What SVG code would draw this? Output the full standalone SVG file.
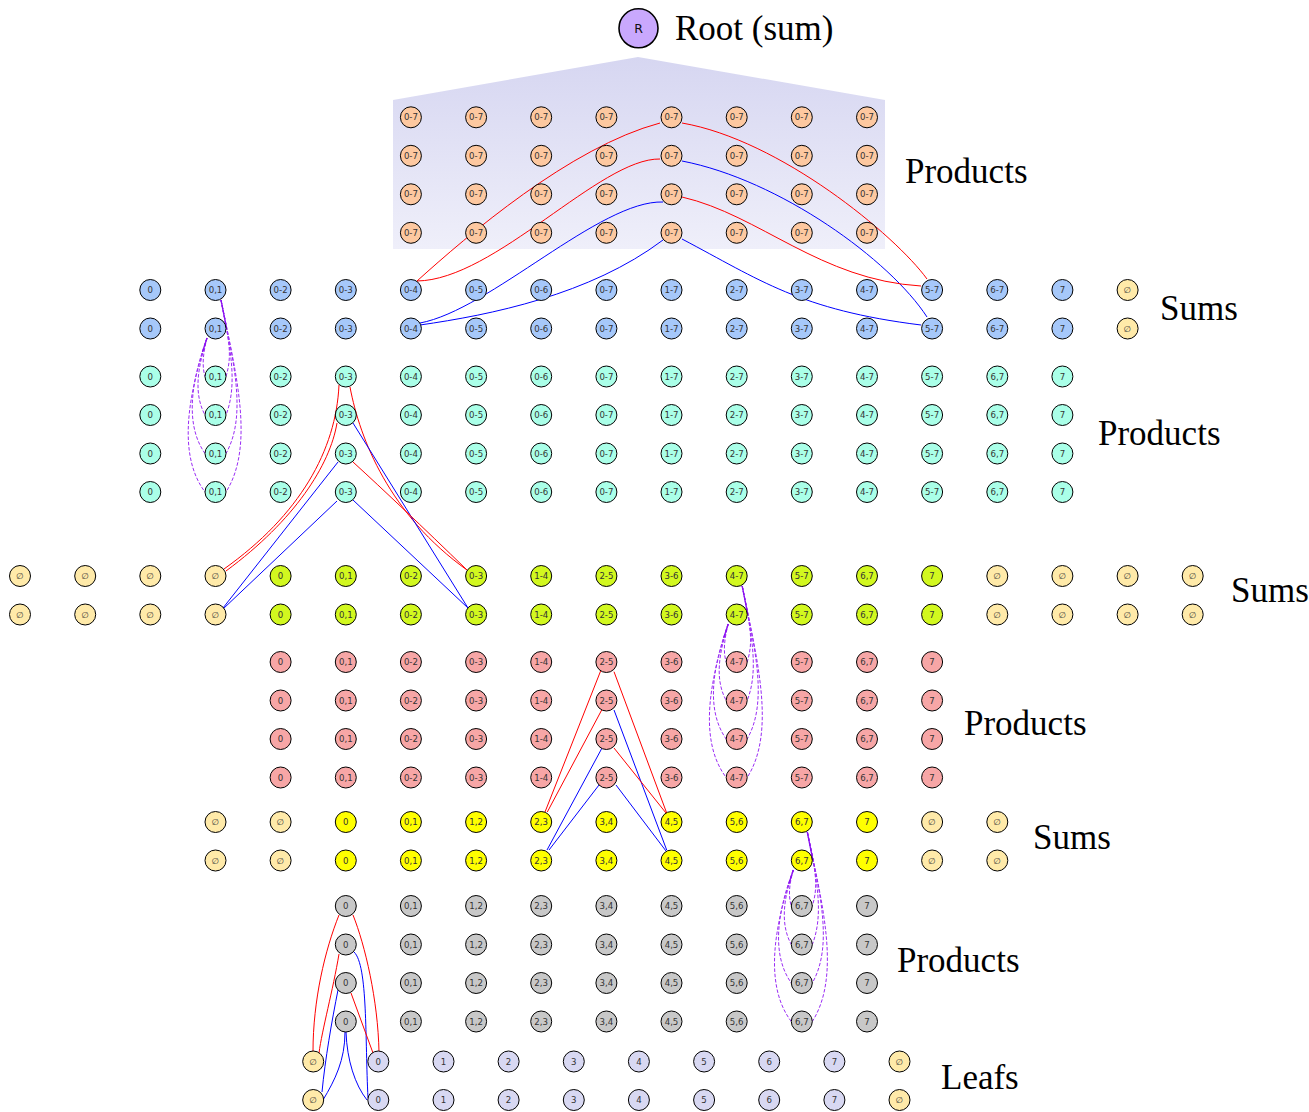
<svg xmlns="http://www.w3.org/2000/svg" width="1309" height="1112" viewBox="0 0 1309 1112">
<style>
.n circle{stroke:#000;stroke-width:1}
.n text{font-family:"DejaVu Sans",sans-serif;font-size:8.6px;text-anchor:middle;fill:#333}
.pe circle{fill:#fdc8a0}.bl circle{fill:#a6c8fa}.cy circle{fill:#aaffe8}.gn circle{fill:#d2f81f}
.em circle{fill:#ffeaa9}.pi circle{fill:#f7a6a6}.ye circle{fill:#ffff00}.gy circle{fill:#c8c8c8}
.lf circle{fill:#d8d8f2}.rt circle{fill:#c9a8fd;stroke-width:1.6}
.rt text{font-size:12.5px;fill:#111}
.lbl{font-family:"Liberation Serif",serif;font-size:35px;fill:#000}
.r{fill:none;stroke:#ff0000;stroke-width:1}
.b{fill:none;stroke:#0000ff;stroke-width:1}
.pd{fill:none;stroke:#9a2cf5;stroke-width:1;stroke-dasharray:3.5 1.8}
.ps{fill:none;stroke:#8a10f0;stroke-width:1.3}
</style>
<defs>
<linearGradient id="bg" x1="0" y1="0" x2="0" y2="1">
<stop offset="0" stop-color="#d6d6f1"/><stop offset="1" stop-color="#efeffa"/>
</linearGradient>
</defs>
<polygon points="393,100 638,57 885,100 885,249 393,249" fill="url(#bg)"/>
<g id="labels">
<text class="lbl" x="675" y="40">Root (sum)</text>
<text class="lbl" x="905" y="183">Products</text>
<text class="lbl" x="1160" y="320">Sums</text>
<text class="lbl" x="1098" y="445">Products</text>
<text class="lbl" x="1231" y="602">Sums</text>
<text class="lbl" x="964" y="735">Products</text>
<text class="lbl" x="1033" y="849">Sums</text>
<text class="lbl" x="897" y="972">Products</text>
<text class="lbl" x="941" y="1089">Leafs</text>
</g>
<g id="connectors">
<path class="r" d="M660,123 C570,147 467,236 417,281"/>
<path class="r" d="M660,159 C600,158 495,280 417,281"/>
<path class="b" d="M663,202 C600,200 490,310 420,323"/>
<path class="b" d="M663,240 C590,295 490,315 420,325"/>
<path class="r" d="M682,123 C780,140 895,235 927,279"/>
<path class="b" d="M682,161 C780,180 890,260 927,317"/>
<path class="r" d="M682,197 C760,215 820,280 921,286"/>
<path class="b" d="M682,239 C760,280 800,310 921,325"/>
<path class="r" d="M339,385 C336,450 300,515 224,569"/>
<path class="r" d="M337,423 C330,465 295,520 226,571"/>
<path class="b" d="M338,462 L223,608"/>
<path class="b" d="M337,501 L223,609"/>
<path class="r" d="M350,387 C360,440 390,515 467,570"/>
<path class="b" d="M353,423 L468,608"/>
<path class="r" d="M353,462 Q400,505 467,570"/>
<path class="b" d="M353,500 L468,608"/>
<path class="r" d="M601,670 L545,812"/>
<path class="r" d="M601.7,710 L547.3,812"/>
<path class="b" d="M602,748 L547,850"/>
<path class="b" d="M599,785 L549,850"/>
<path class="r" d="M614,671.7 L666.7,813"/>
<path class="b" d="M614,710 L666.7,850"/>
<path class="r" d="M614,748 L666,813"/>
<path class="b" d="M616,785 L666,851"/>
<path class="r" d="M339,915 C325,950 313,1000 313,1051.7"/>
<path class="r" d="M339,954 C333,990 322,1030 319,1053"/>
<path class="b" d="M338,990 C332,1020 325,1060 322,1092"/>
<path class="b" d="M345,1032 C345,1060 335,1080 323,1100"/>
<path class="r" d="M353,915 C365,945 378,1000 379,1052"/>
<path class="b" d="M354,952 C368,965 365,1040 368,1098"/>
<path class="r" d="M351,993 L373,1053"/>
<path class="b" d="M346,1032 C347,1060 355,1085 367,1100"/>
<g transform="translate(215.5,290)">
<path class="pd" d="M5.5,10 C13.5,50 17,65 10.5,86.5"/>
<path class="pd" d="M5.5,10 C15.5,60 22,95 10.5,125"/>
<path class="pd" d="M5.5,10 C17.5,70 32,125 10.5,163.5"/>
<path class="pd" d="M5.5,10 C19.5,80 40,155 10.5,202"/>
<path class="pd" d="M-8.5,48 C-12,62 -14,75 -10.5,86.5"/>
<path class="pd" d="M-8.5,48 C-15,70 -24,100 -10.5,125"/>
<path class="pd" d="M-8.5,48 C-20,80 -34,130 -10.5,163.5"/>
<path class="pd" d="M-8.5,48 C-22,90 -42,160 -10.5,202"/>
<path class="ps" d="M5.5,10 L11,38"/>
<path class="ps" d="M-8.5,48 L-13,62"/>
</g>
<g transform="translate(736.7,576)">
<path class="pd" d="M5.5,10 C13.5,50 17,65 10.5,86"/>
<path class="pd" d="M5.5,10 C15.5,60 22,95 10.5,124.5"/>
<path class="pd" d="M5.5,10 C17.5,70 32,125 10.5,163"/>
<path class="pd" d="M5.5,10 C19.5,80 40,155 10.5,201.5"/>
<path class="pd" d="M-8.5,48 C-12,62 -14,75 -10.5,86"/>
<path class="pd" d="M-8.5,48 C-15,70 -24,100 -10.5,124.5"/>
<path class="pd" d="M-8.5,48 C-20,80 -34,130 -10.5,163"/>
<path class="pd" d="M-8.5,48 C-22,90 -42,160 -10.5,201.5"/>
<path class="ps" d="M5.5,10 L11,38"/>
<path class="ps" d="M-8.5,48 L-13,62"/>
</g>
<g transform="translate(801.8,822)">
<path class="pd" d="M5.5,10 C13.5,48 17,63 10.5,84"/>
<path class="pd" d="M5.5,10 C15.5,58 22,93 10.5,122.5"/>
<path class="pd" d="M5.5,10 C17.5,68 32,123 10.5,161"/>
<path class="pd" d="M5.5,10 C19.5,78 40,153 10.5,199.5"/>
<path class="pd" d="M-8.5,48 C-12,60 -14,73 -10.5,84"/>
<path class="pd" d="M-8.5,48 C-15,68 -24,98 -10.5,122.5"/>
<path class="pd" d="M-8.5,48 C-20,78 -34,128 -10.5,161"/>
<path class="pd" d="M-8.5,48 C-22,88 -42,158 -10.5,199.5"/>
<path class="ps" d="M5.5,10 L11,38"/>
<path class="ps" d="M-8.5,48 L-13,62"/>
</g>
</g>
<g id="root" class="n rt" transform="translate(638.5,28.3)"><circle r="19.5"/><text y="4.5">R</text></g>
<g id="a1-6" class="n pe" transform="translate(410.9,117.3)"><circle r="10.5"/><text y="3">0-7</text></g>
<g id="a1-7" class="n pe" transform="translate(476.1,117.3)"><circle r="10.5"/><text y="3">0-7</text></g>
<g id="a1-8" class="n pe" transform="translate(541.2,117.3)"><circle r="10.5"/><text y="3">0-7</text></g>
<g id="a1-9" class="n pe" transform="translate(606.4,117.3)"><circle r="10.5"/><text y="3">0-7</text></g>
<g id="a1-10" class="n pe" transform="translate(671.5,117.3)"><circle r="10.5"/><text y="3">0-7</text></g>
<g id="a1-11" class="n pe" transform="translate(736.7,117.3)"><circle r="10.5"/><text y="3">0-7</text></g>
<g id="a1-12" class="n pe" transform="translate(801.8,117.3)"><circle r="10.5"/><text y="3">0-7</text></g>
<g id="a1-13" class="n pe" transform="translate(867,117.3)"><circle r="10.5"/><text y="3">0-7</text></g>
<g id="a2-6" class="n pe" transform="translate(410.9,155.8)"><circle r="10.5"/><text y="3">0-7</text></g>
<g id="a2-7" class="n pe" transform="translate(476.1,155.8)"><circle r="10.5"/><text y="3">0-7</text></g>
<g id="a2-8" class="n pe" transform="translate(541.2,155.8)"><circle r="10.5"/><text y="3">0-7</text></g>
<g id="a2-9" class="n pe" transform="translate(606.4,155.8)"><circle r="10.5"/><text y="3">0-7</text></g>
<g id="a2-10" class="n pe" transform="translate(671.5,155.8)"><circle r="10.5"/><text y="3">0-7</text></g>
<g id="a2-11" class="n pe" transform="translate(736.7,155.8)"><circle r="10.5"/><text y="3">0-7</text></g>
<g id="a2-12" class="n pe" transform="translate(801.8,155.8)"><circle r="10.5"/><text y="3">0-7</text></g>
<g id="a2-13" class="n pe" transform="translate(867,155.8)"><circle r="10.5"/><text y="3">0-7</text></g>
<g id="a3-6" class="n pe" transform="translate(410.9,194.3)"><circle r="10.5"/><text y="3">0-7</text></g>
<g id="a3-7" class="n pe" transform="translate(476.1,194.3)"><circle r="10.5"/><text y="3">0-7</text></g>
<g id="a3-8" class="n pe" transform="translate(541.2,194.3)"><circle r="10.5"/><text y="3">0-7</text></g>
<g id="a3-9" class="n pe" transform="translate(606.4,194.3)"><circle r="10.5"/><text y="3">0-7</text></g>
<g id="a3-10" class="n pe" transform="translate(671.5,194.3)"><circle r="10.5"/><text y="3">0-7</text></g>
<g id="a3-11" class="n pe" transform="translate(736.7,194.3)"><circle r="10.5"/><text y="3">0-7</text></g>
<g id="a3-12" class="n pe" transform="translate(801.8,194.3)"><circle r="10.5"/><text y="3">0-7</text></g>
<g id="a3-13" class="n pe" transform="translate(867,194.3)"><circle r="10.5"/><text y="3">0-7</text></g>
<g id="a4-6" class="n pe" transform="translate(410.9,232.8)"><circle r="10.5"/><text y="3">0-7</text></g>
<g id="a4-7" class="n pe" transform="translate(476.1,232.8)"><circle r="10.5"/><text y="3">0-7</text></g>
<g id="a4-8" class="n pe" transform="translate(541.2,232.8)"><circle r="10.5"/><text y="3">0-7</text></g>
<g id="a4-9" class="n pe" transform="translate(606.4,232.8)"><circle r="10.5"/><text y="3">0-7</text></g>
<g id="a4-10" class="n pe" transform="translate(671.5,232.8)"><circle r="10.5"/><text y="3">0-7</text></g>
<g id="a4-11" class="n pe" transform="translate(736.7,232.8)"><circle r="10.5"/><text y="3">0-7</text></g>
<g id="a4-12" class="n pe" transform="translate(801.8,232.8)"><circle r="10.5"/><text y="3">0-7</text></g>
<g id="a4-13" class="n pe" transform="translate(867,232.8)"><circle r="10.5"/><text y="3">0-7</text></g>
<g id="b1-2" class="n bl" transform="translate(150.3,290)"><circle r="10.5"/><text y="3">0</text></g>
<g id="b1-3" class="n bl" transform="translate(215.5,290)"><circle r="10.5"/><text y="3">0,1</text></g>
<g id="b1-4" class="n bl" transform="translate(280.6,290)"><circle r="10.5"/><text y="3">0-2</text></g>
<g id="b1-5" class="n bl" transform="translate(345.8,290)"><circle r="10.5"/><text y="3">0-3</text></g>
<g id="b1-6" class="n bl" transform="translate(410.9,290)"><circle r="10.5"/><text y="3">0-4</text></g>
<g id="b1-7" class="n bl" transform="translate(476.1,290)"><circle r="10.5"/><text y="3">0-5</text></g>
<g id="b1-8" class="n bl" transform="translate(541.2,290)"><circle r="10.5"/><text y="3">0-6</text></g>
<g id="b1-9" class="n bl" transform="translate(606.4,290)"><circle r="10.5"/><text y="3">0-7</text></g>
<g id="b1-10" class="n bl" transform="translate(671.5,290)"><circle r="10.5"/><text y="3">1-7</text></g>
<g id="b1-11" class="n bl" transform="translate(736.7,290)"><circle r="10.5"/><text y="3">2-7</text></g>
<g id="b1-12" class="n bl" transform="translate(801.8,290)"><circle r="10.5"/><text y="3">3-7</text></g>
<g id="b1-13" class="n bl" transform="translate(867,290)"><circle r="10.5"/><text y="3">4-7</text></g>
<g id="b1-14" class="n bl" transform="translate(932.1,290)"><circle r="10.5"/><text y="3">5-7</text></g>
<g id="b1-15" class="n bl" transform="translate(997.3,290)"><circle r="10.5"/><text y="3">6-7</text></g>
<g id="b1-16" class="n bl" transform="translate(1062.4,290)"><circle r="10.5"/><text y="3">7</text></g>
<g id="b1-17" class="n em" transform="translate(1127.6,290)"><circle r="10.5"/><text y="3">∅</text></g>
<g id="b2-2" class="n bl" transform="translate(150.3,328.5)"><circle r="10.5"/><text y="3">0</text></g>
<g id="b2-3" class="n bl" transform="translate(215.5,328.5)"><circle r="10.5"/><text y="3">0,1</text></g>
<g id="b2-4" class="n bl" transform="translate(280.6,328.5)"><circle r="10.5"/><text y="3">0-2</text></g>
<g id="b2-5" class="n bl" transform="translate(345.8,328.5)"><circle r="10.5"/><text y="3">0-3</text></g>
<g id="b2-6" class="n bl" transform="translate(410.9,328.5)"><circle r="10.5"/><text y="3">0-4</text></g>
<g id="b2-7" class="n bl" transform="translate(476.1,328.5)"><circle r="10.5"/><text y="3">0-5</text></g>
<g id="b2-8" class="n bl" transform="translate(541.2,328.5)"><circle r="10.5"/><text y="3">0-6</text></g>
<g id="b2-9" class="n bl" transform="translate(606.4,328.5)"><circle r="10.5"/><text y="3">0-7</text></g>
<g id="b2-10" class="n bl" transform="translate(671.5,328.5)"><circle r="10.5"/><text y="3">1-7</text></g>
<g id="b2-11" class="n bl" transform="translate(736.7,328.5)"><circle r="10.5"/><text y="3">2-7</text></g>
<g id="b2-12" class="n bl" transform="translate(801.8,328.5)"><circle r="10.5"/><text y="3">3-7</text></g>
<g id="b2-13" class="n bl" transform="translate(867,328.5)"><circle r="10.5"/><text y="3">4-7</text></g>
<g id="b2-14" class="n bl" transform="translate(932.1,328.5)"><circle r="10.5"/><text y="3">5-7</text></g>
<g id="b2-15" class="n bl" transform="translate(997.3,328.5)"><circle r="10.5"/><text y="3">6-7</text></g>
<g id="b2-16" class="n bl" transform="translate(1062.4,328.5)"><circle r="10.5"/><text y="3">7</text></g>
<g id="b2-17" class="n em" transform="translate(1127.6,328.5)"><circle r="10.5"/><text y="3">∅</text></g>
<g id="c1-2" class="n cy" transform="translate(150.3,376.5)"><circle r="10.5"/><text y="3">0</text></g>
<g id="c1-3" class="n cy" transform="translate(215.5,376.5)"><circle r="10.5"/><text y="3">0,1</text></g>
<g id="c1-4" class="n cy" transform="translate(280.6,376.5)"><circle r="10.5"/><text y="3">0-2</text></g>
<g id="c1-5" class="n cy" transform="translate(345.8,376.5)"><circle r="10.5"/><text y="3">0-3</text></g>
<g id="c1-6" class="n cy" transform="translate(410.9,376.5)"><circle r="10.5"/><text y="3">0-4</text></g>
<g id="c1-7" class="n cy" transform="translate(476.1,376.5)"><circle r="10.5"/><text y="3">0-5</text></g>
<g id="c1-8" class="n cy" transform="translate(541.2,376.5)"><circle r="10.5"/><text y="3">0-6</text></g>
<g id="c1-9" class="n cy" transform="translate(606.4,376.5)"><circle r="10.5"/><text y="3">0-7</text></g>
<g id="c1-10" class="n cy" transform="translate(671.5,376.5)"><circle r="10.5"/><text y="3">1-7</text></g>
<g id="c1-11" class="n cy" transform="translate(736.7,376.5)"><circle r="10.5"/><text y="3">2-7</text></g>
<g id="c1-12" class="n cy" transform="translate(801.8,376.5)"><circle r="10.5"/><text y="3">3-7</text></g>
<g id="c1-13" class="n cy" transform="translate(867,376.5)"><circle r="10.5"/><text y="3">4-7</text></g>
<g id="c1-14" class="n cy" transform="translate(932.1,376.5)"><circle r="10.5"/><text y="3">5-7</text></g>
<g id="c1-15" class="n cy" transform="translate(997.3,376.5)"><circle r="10.5"/><text y="3">6,7</text></g>
<g id="c1-16" class="n cy" transform="translate(1062.4,376.5)"><circle r="10.5"/><text y="3">7</text></g>
<g id="c2-2" class="n cy" transform="translate(150.3,415)"><circle r="10.5"/><text y="3">0</text></g>
<g id="c2-3" class="n cy" transform="translate(215.5,415)"><circle r="10.5"/><text y="3">0,1</text></g>
<g id="c2-4" class="n cy" transform="translate(280.6,415)"><circle r="10.5"/><text y="3">0-2</text></g>
<g id="c2-5" class="n cy" transform="translate(345.8,415)"><circle r="10.5"/><text y="3">0-3</text></g>
<g id="c2-6" class="n cy" transform="translate(410.9,415)"><circle r="10.5"/><text y="3">0-4</text></g>
<g id="c2-7" class="n cy" transform="translate(476.1,415)"><circle r="10.5"/><text y="3">0-5</text></g>
<g id="c2-8" class="n cy" transform="translate(541.2,415)"><circle r="10.5"/><text y="3">0-6</text></g>
<g id="c2-9" class="n cy" transform="translate(606.4,415)"><circle r="10.5"/><text y="3">0-7</text></g>
<g id="c2-10" class="n cy" transform="translate(671.5,415)"><circle r="10.5"/><text y="3">1-7</text></g>
<g id="c2-11" class="n cy" transform="translate(736.7,415)"><circle r="10.5"/><text y="3">2-7</text></g>
<g id="c2-12" class="n cy" transform="translate(801.8,415)"><circle r="10.5"/><text y="3">3-7</text></g>
<g id="c2-13" class="n cy" transform="translate(867,415)"><circle r="10.5"/><text y="3">4-7</text></g>
<g id="c2-14" class="n cy" transform="translate(932.1,415)"><circle r="10.5"/><text y="3">5-7</text></g>
<g id="c2-15" class="n cy" transform="translate(997.3,415)"><circle r="10.5"/><text y="3">6,7</text></g>
<g id="c2-16" class="n cy" transform="translate(1062.4,415)"><circle r="10.5"/><text y="3">7</text></g>
<g id="c3-2" class="n cy" transform="translate(150.3,453.5)"><circle r="10.5"/><text y="3">0</text></g>
<g id="c3-3" class="n cy" transform="translate(215.5,453.5)"><circle r="10.5"/><text y="3">0,1</text></g>
<g id="c3-4" class="n cy" transform="translate(280.6,453.5)"><circle r="10.5"/><text y="3">0-2</text></g>
<g id="c3-5" class="n cy" transform="translate(345.8,453.5)"><circle r="10.5"/><text y="3">0-3</text></g>
<g id="c3-6" class="n cy" transform="translate(410.9,453.5)"><circle r="10.5"/><text y="3">0-4</text></g>
<g id="c3-7" class="n cy" transform="translate(476.1,453.5)"><circle r="10.5"/><text y="3">0-5</text></g>
<g id="c3-8" class="n cy" transform="translate(541.2,453.5)"><circle r="10.5"/><text y="3">0-6</text></g>
<g id="c3-9" class="n cy" transform="translate(606.4,453.5)"><circle r="10.5"/><text y="3">0-7</text></g>
<g id="c3-10" class="n cy" transform="translate(671.5,453.5)"><circle r="10.5"/><text y="3">1-7</text></g>
<g id="c3-11" class="n cy" transform="translate(736.7,453.5)"><circle r="10.5"/><text y="3">2-7</text></g>
<g id="c3-12" class="n cy" transform="translate(801.8,453.5)"><circle r="10.5"/><text y="3">3-7</text></g>
<g id="c3-13" class="n cy" transform="translate(867,453.5)"><circle r="10.5"/><text y="3">4-7</text></g>
<g id="c3-14" class="n cy" transform="translate(932.1,453.5)"><circle r="10.5"/><text y="3">5-7</text></g>
<g id="c3-15" class="n cy" transform="translate(997.3,453.5)"><circle r="10.5"/><text y="3">6,7</text></g>
<g id="c3-16" class="n cy" transform="translate(1062.4,453.5)"><circle r="10.5"/><text y="3">7</text></g>
<g id="c4-2" class="n cy" transform="translate(150.3,492)"><circle r="10.5"/><text y="3">0</text></g>
<g id="c4-3" class="n cy" transform="translate(215.5,492)"><circle r="10.5"/><text y="3">0,1</text></g>
<g id="c4-4" class="n cy" transform="translate(280.6,492)"><circle r="10.5"/><text y="3">0-2</text></g>
<g id="c4-5" class="n cy" transform="translate(345.8,492)"><circle r="10.5"/><text y="3">0-3</text></g>
<g id="c4-6" class="n cy" transform="translate(410.9,492)"><circle r="10.5"/><text y="3">0-4</text></g>
<g id="c4-7" class="n cy" transform="translate(476.1,492)"><circle r="10.5"/><text y="3">0-5</text></g>
<g id="c4-8" class="n cy" transform="translate(541.2,492)"><circle r="10.5"/><text y="3">0-6</text></g>
<g id="c4-9" class="n cy" transform="translate(606.4,492)"><circle r="10.5"/><text y="3">0-7</text></g>
<g id="c4-10" class="n cy" transform="translate(671.5,492)"><circle r="10.5"/><text y="3">1-7</text></g>
<g id="c4-11" class="n cy" transform="translate(736.7,492)"><circle r="10.5"/><text y="3">2-7</text></g>
<g id="c4-12" class="n cy" transform="translate(801.8,492)"><circle r="10.5"/><text y="3">3-7</text></g>
<g id="c4-13" class="n cy" transform="translate(867,492)"><circle r="10.5"/><text y="3">4-7</text></g>
<g id="c4-14" class="n cy" transform="translate(932.1,492)"><circle r="10.5"/><text y="3">5-7</text></g>
<g id="c4-15" class="n cy" transform="translate(997.3,492)"><circle r="10.5"/><text y="3">6,7</text></g>
<g id="c4-16" class="n cy" transform="translate(1062.4,492)"><circle r="10.5"/><text y="3">7</text></g>
<g id="d1-0" class="n em" transform="translate(20,576)"><circle r="10.5"/><text y="3">∅</text></g>
<g id="d1-1" class="n em" transform="translate(85.2,576)"><circle r="10.5"/><text y="3">∅</text></g>
<g id="d1-2" class="n em" transform="translate(150.3,576)"><circle r="10.5"/><text y="3">∅</text></g>
<g id="d1-3" class="n em" transform="translate(215.5,576)"><circle r="10.5"/><text y="3">∅</text></g>
<g id="d1-4" class="n gn" transform="translate(280.6,576)"><circle r="10.5"/><text y="3">0</text></g>
<g id="d1-5" class="n gn" transform="translate(345.8,576)"><circle r="10.5"/><text y="3">0,1</text></g>
<g id="d1-6" class="n gn" transform="translate(410.9,576)"><circle r="10.5"/><text y="3">0-2</text></g>
<g id="d1-7" class="n gn" transform="translate(476.1,576)"><circle r="10.5"/><text y="3">0-3</text></g>
<g id="d1-8" class="n gn" transform="translate(541.2,576)"><circle r="10.5"/><text y="3">1-4</text></g>
<g id="d1-9" class="n gn" transform="translate(606.4,576)"><circle r="10.5"/><text y="3">2-5</text></g>
<g id="d1-10" class="n gn" transform="translate(671.5,576)"><circle r="10.5"/><text y="3">3-6</text></g>
<g id="d1-11" class="n gn" transform="translate(736.7,576)"><circle r="10.5"/><text y="3">4-7</text></g>
<g id="d1-12" class="n gn" transform="translate(801.8,576)"><circle r="10.5"/><text y="3">5-7</text></g>
<g id="d1-13" class="n gn" transform="translate(867,576)"><circle r="10.5"/><text y="3">6,7</text></g>
<g id="d1-14" class="n gn" transform="translate(932.1,576)"><circle r="10.5"/><text y="3">7</text></g>
<g id="d1-15" class="n em" transform="translate(997.3,576)"><circle r="10.5"/><text y="3">∅</text></g>
<g id="d1-16" class="n em" transform="translate(1062.4,576)"><circle r="10.5"/><text y="3">∅</text></g>
<g id="d1-17" class="n em" transform="translate(1127.6,576)"><circle r="10.5"/><text y="3">∅</text></g>
<g id="d1-18" class="n em" transform="translate(1192.7,576)"><circle r="10.5"/><text y="3">∅</text></g>
<g id="d2-0" class="n em" transform="translate(20,614.5)"><circle r="10.5"/><text y="3">∅</text></g>
<g id="d2-1" class="n em" transform="translate(85.2,614.5)"><circle r="10.5"/><text y="3">∅</text></g>
<g id="d2-2" class="n em" transform="translate(150.3,614.5)"><circle r="10.5"/><text y="3">∅</text></g>
<g id="d2-3" class="n em" transform="translate(215.5,614.5)"><circle r="10.5"/><text y="3">∅</text></g>
<g id="d2-4" class="n gn" transform="translate(280.6,614.5)"><circle r="10.5"/><text y="3">0</text></g>
<g id="d2-5" class="n gn" transform="translate(345.8,614.5)"><circle r="10.5"/><text y="3">0,1</text></g>
<g id="d2-6" class="n gn" transform="translate(410.9,614.5)"><circle r="10.5"/><text y="3">0-2</text></g>
<g id="d2-7" class="n gn" transform="translate(476.1,614.5)"><circle r="10.5"/><text y="3">0-3</text></g>
<g id="d2-8" class="n gn" transform="translate(541.2,614.5)"><circle r="10.5"/><text y="3">1-4</text></g>
<g id="d2-9" class="n gn" transform="translate(606.4,614.5)"><circle r="10.5"/><text y="3">2-5</text></g>
<g id="d2-10" class="n gn" transform="translate(671.5,614.5)"><circle r="10.5"/><text y="3">3-6</text></g>
<g id="d2-11" class="n gn" transform="translate(736.7,614.5)"><circle r="10.5"/><text y="3">4-7</text></g>
<g id="d2-12" class="n gn" transform="translate(801.8,614.5)"><circle r="10.5"/><text y="3">5-7</text></g>
<g id="d2-13" class="n gn" transform="translate(867,614.5)"><circle r="10.5"/><text y="3">6,7</text></g>
<g id="d2-14" class="n gn" transform="translate(932.1,614.5)"><circle r="10.5"/><text y="3">7</text></g>
<g id="d2-15" class="n em" transform="translate(997.3,614.5)"><circle r="10.5"/><text y="3">∅</text></g>
<g id="d2-16" class="n em" transform="translate(1062.4,614.5)"><circle r="10.5"/><text y="3">∅</text></g>
<g id="d2-17" class="n em" transform="translate(1127.6,614.5)"><circle r="10.5"/><text y="3">∅</text></g>
<g id="d2-18" class="n em" transform="translate(1192.7,614.5)"><circle r="10.5"/><text y="3">∅</text></g>
<g id="e1-4" class="n pi" transform="translate(280.6,662)"><circle r="10.5"/><text y="3">0</text></g>
<g id="e1-5" class="n pi" transform="translate(345.8,662)"><circle r="10.5"/><text y="3">0,1</text></g>
<g id="e1-6" class="n pi" transform="translate(410.9,662)"><circle r="10.5"/><text y="3">0-2</text></g>
<g id="e1-7" class="n pi" transform="translate(476.1,662)"><circle r="10.5"/><text y="3">0-3</text></g>
<g id="e1-8" class="n pi" transform="translate(541.2,662)"><circle r="10.5"/><text y="3">1-4</text></g>
<g id="e1-9" class="n pi" transform="translate(606.4,662)"><circle r="10.5"/><text y="3">2-5</text></g>
<g id="e1-10" class="n pi" transform="translate(671.5,662)"><circle r="10.5"/><text y="3">3-6</text></g>
<g id="e1-11" class="n pi" transform="translate(736.7,662)"><circle r="10.5"/><text y="3">4-7</text></g>
<g id="e1-12" class="n pi" transform="translate(801.8,662)"><circle r="10.5"/><text y="3">5-7</text></g>
<g id="e1-13" class="n pi" transform="translate(867,662)"><circle r="10.5"/><text y="3">6,7</text></g>
<g id="e1-14" class="n pi" transform="translate(932.1,662)"><circle r="10.5"/><text y="3">7</text></g>
<g id="e2-4" class="n pi" transform="translate(280.6,700.5)"><circle r="10.5"/><text y="3">0</text></g>
<g id="e2-5" class="n pi" transform="translate(345.8,700.5)"><circle r="10.5"/><text y="3">0,1</text></g>
<g id="e2-6" class="n pi" transform="translate(410.9,700.5)"><circle r="10.5"/><text y="3">0-2</text></g>
<g id="e2-7" class="n pi" transform="translate(476.1,700.5)"><circle r="10.5"/><text y="3">0-3</text></g>
<g id="e2-8" class="n pi" transform="translate(541.2,700.5)"><circle r="10.5"/><text y="3">1-4</text></g>
<g id="e2-9" class="n pi" transform="translate(606.4,700.5)"><circle r="10.5"/><text y="3">2-5</text></g>
<g id="e2-10" class="n pi" transform="translate(671.5,700.5)"><circle r="10.5"/><text y="3">3-6</text></g>
<g id="e2-11" class="n pi" transform="translate(736.7,700.5)"><circle r="10.5"/><text y="3">4-7</text></g>
<g id="e2-12" class="n pi" transform="translate(801.8,700.5)"><circle r="10.5"/><text y="3">5-7</text></g>
<g id="e2-13" class="n pi" transform="translate(867,700.5)"><circle r="10.5"/><text y="3">6,7</text></g>
<g id="e2-14" class="n pi" transform="translate(932.1,700.5)"><circle r="10.5"/><text y="3">7</text></g>
<g id="e3-4" class="n pi" transform="translate(280.6,739)"><circle r="10.5"/><text y="3">0</text></g>
<g id="e3-5" class="n pi" transform="translate(345.8,739)"><circle r="10.5"/><text y="3">0,1</text></g>
<g id="e3-6" class="n pi" transform="translate(410.9,739)"><circle r="10.5"/><text y="3">0-2</text></g>
<g id="e3-7" class="n pi" transform="translate(476.1,739)"><circle r="10.5"/><text y="3">0-3</text></g>
<g id="e3-8" class="n pi" transform="translate(541.2,739)"><circle r="10.5"/><text y="3">1-4</text></g>
<g id="e3-9" class="n pi" transform="translate(606.4,739)"><circle r="10.5"/><text y="3">2-5</text></g>
<g id="e3-10" class="n pi" transform="translate(671.5,739)"><circle r="10.5"/><text y="3">3-6</text></g>
<g id="e3-11" class="n pi" transform="translate(736.7,739)"><circle r="10.5"/><text y="3">4-7</text></g>
<g id="e3-12" class="n pi" transform="translate(801.8,739)"><circle r="10.5"/><text y="3">5-7</text></g>
<g id="e3-13" class="n pi" transform="translate(867,739)"><circle r="10.5"/><text y="3">6,7</text></g>
<g id="e3-14" class="n pi" transform="translate(932.1,739)"><circle r="10.5"/><text y="3">7</text></g>
<g id="e4-4" class="n pi" transform="translate(280.6,777.5)"><circle r="10.5"/><text y="3">0</text></g>
<g id="e4-5" class="n pi" transform="translate(345.8,777.5)"><circle r="10.5"/><text y="3">0,1</text></g>
<g id="e4-6" class="n pi" transform="translate(410.9,777.5)"><circle r="10.5"/><text y="3">0-2</text></g>
<g id="e4-7" class="n pi" transform="translate(476.1,777.5)"><circle r="10.5"/><text y="3">0-3</text></g>
<g id="e4-8" class="n pi" transform="translate(541.2,777.5)"><circle r="10.5"/><text y="3">1-4</text></g>
<g id="e4-9" class="n pi" transform="translate(606.4,777.5)"><circle r="10.5"/><text y="3">2-5</text></g>
<g id="e4-10" class="n pi" transform="translate(671.5,777.5)"><circle r="10.5"/><text y="3">3-6</text></g>
<g id="e4-11" class="n pi" transform="translate(736.7,777.5)"><circle r="10.5"/><text y="3">4-7</text></g>
<g id="e4-12" class="n pi" transform="translate(801.8,777.5)"><circle r="10.5"/><text y="3">5-7</text></g>
<g id="e4-13" class="n pi" transform="translate(867,777.5)"><circle r="10.5"/><text y="3">6,7</text></g>
<g id="e4-14" class="n pi" transform="translate(932.1,777.5)"><circle r="10.5"/><text y="3">7</text></g>
<g id="f1-3" class="n em" transform="translate(215.5,822)"><circle r="10.5"/><text y="3">∅</text></g>
<g id="f1-4" class="n em" transform="translate(280.6,822)"><circle r="10.5"/><text y="3">∅</text></g>
<g id="f1-5" class="n ye" transform="translate(345.8,822)"><circle r="10.5"/><text y="3">0</text></g>
<g id="f1-6" class="n ye" transform="translate(410.9,822)"><circle r="10.5"/><text y="3">0,1</text></g>
<g id="f1-7" class="n ye" transform="translate(476.1,822)"><circle r="10.5"/><text y="3">1,2</text></g>
<g id="f1-8" class="n ye" transform="translate(541.2,822)"><circle r="10.5"/><text y="3">2,3</text></g>
<g id="f1-9" class="n ye" transform="translate(606.4,822)"><circle r="10.5"/><text y="3">3,4</text></g>
<g id="f1-10" class="n ye" transform="translate(671.5,822)"><circle r="10.5"/><text y="3">4,5</text></g>
<g id="f1-11" class="n ye" transform="translate(736.7,822)"><circle r="10.5"/><text y="3">5,6</text></g>
<g id="f1-12" class="n ye" transform="translate(801.8,822)"><circle r="10.5"/><text y="3">6,7</text></g>
<g id="f1-13" class="n ye" transform="translate(867,822)"><circle r="10.5"/><text y="3">7</text></g>
<g id="f1-14" class="n em" transform="translate(932.1,822)"><circle r="10.5"/><text y="3">∅</text></g>
<g id="f1-15" class="n em" transform="translate(997.3,822)"><circle r="10.5"/><text y="3">∅</text></g>
<g id="f2-3" class="n em" transform="translate(215.5,860.5)"><circle r="10.5"/><text y="3">∅</text></g>
<g id="f2-4" class="n em" transform="translate(280.6,860.5)"><circle r="10.5"/><text y="3">∅</text></g>
<g id="f2-5" class="n ye" transform="translate(345.8,860.5)"><circle r="10.5"/><text y="3">0</text></g>
<g id="f2-6" class="n ye" transform="translate(410.9,860.5)"><circle r="10.5"/><text y="3">0,1</text></g>
<g id="f2-7" class="n ye" transform="translate(476.1,860.5)"><circle r="10.5"/><text y="3">1,2</text></g>
<g id="f2-8" class="n ye" transform="translate(541.2,860.5)"><circle r="10.5"/><text y="3">2,3</text></g>
<g id="f2-9" class="n ye" transform="translate(606.4,860.5)"><circle r="10.5"/><text y="3">3,4</text></g>
<g id="f2-10" class="n ye" transform="translate(671.5,860.5)"><circle r="10.5"/><text y="3">4,5</text></g>
<g id="f2-11" class="n ye" transform="translate(736.7,860.5)"><circle r="10.5"/><text y="3">5,6</text></g>
<g id="f2-12" class="n ye" transform="translate(801.8,860.5)"><circle r="10.5"/><text y="3">6,7</text></g>
<g id="f2-13" class="n ye" transform="translate(867,860.5)"><circle r="10.5"/><text y="3">7</text></g>
<g id="f2-14" class="n em" transform="translate(932.1,860.5)"><circle r="10.5"/><text y="3">∅</text></g>
<g id="f2-15" class="n em" transform="translate(997.3,860.5)"><circle r="10.5"/><text y="3">∅</text></g>
<g id="g1-5" class="n gy" transform="translate(345.8,906)"><circle r="10.5"/><text y="3">0</text></g>
<g id="g1-6" class="n gy" transform="translate(410.9,906)"><circle r="10.5"/><text y="3">0,1</text></g>
<g id="g1-7" class="n gy" transform="translate(476.1,906)"><circle r="10.5"/><text y="3">1,2</text></g>
<g id="g1-8" class="n gy" transform="translate(541.2,906)"><circle r="10.5"/><text y="3">2,3</text></g>
<g id="g1-9" class="n gy" transform="translate(606.4,906)"><circle r="10.5"/><text y="3">3,4</text></g>
<g id="g1-10" class="n gy" transform="translate(671.5,906)"><circle r="10.5"/><text y="3">4,5</text></g>
<g id="g1-11" class="n gy" transform="translate(736.7,906)"><circle r="10.5"/><text y="3">5,6</text></g>
<g id="g1-12" class="n gy" transform="translate(801.8,906)"><circle r="10.5"/><text y="3">6,7</text></g>
<g id="g1-13" class="n gy" transform="translate(867,906)"><circle r="10.5"/><text y="3">7</text></g>
<g id="g2-5" class="n gy" transform="translate(345.8,944.5)"><circle r="10.5"/><text y="3">0</text></g>
<g id="g2-6" class="n gy" transform="translate(410.9,944.5)"><circle r="10.5"/><text y="3">0,1</text></g>
<g id="g2-7" class="n gy" transform="translate(476.1,944.5)"><circle r="10.5"/><text y="3">1,2</text></g>
<g id="g2-8" class="n gy" transform="translate(541.2,944.5)"><circle r="10.5"/><text y="3">2,3</text></g>
<g id="g2-9" class="n gy" transform="translate(606.4,944.5)"><circle r="10.5"/><text y="3">3,4</text></g>
<g id="g2-10" class="n gy" transform="translate(671.5,944.5)"><circle r="10.5"/><text y="3">4,5</text></g>
<g id="g2-11" class="n gy" transform="translate(736.7,944.5)"><circle r="10.5"/><text y="3">5,6</text></g>
<g id="g2-12" class="n gy" transform="translate(801.8,944.5)"><circle r="10.5"/><text y="3">6,7</text></g>
<g id="g2-13" class="n gy" transform="translate(867,944.5)"><circle r="10.5"/><text y="3">7</text></g>
<g id="g3-5" class="n gy" transform="translate(345.8,983)"><circle r="10.5"/><text y="3">0</text></g>
<g id="g3-6" class="n gy" transform="translate(410.9,983)"><circle r="10.5"/><text y="3">0,1</text></g>
<g id="g3-7" class="n gy" transform="translate(476.1,983)"><circle r="10.5"/><text y="3">1,2</text></g>
<g id="g3-8" class="n gy" transform="translate(541.2,983)"><circle r="10.5"/><text y="3">2,3</text></g>
<g id="g3-9" class="n gy" transform="translate(606.4,983)"><circle r="10.5"/><text y="3">3,4</text></g>
<g id="g3-10" class="n gy" transform="translate(671.5,983)"><circle r="10.5"/><text y="3">4,5</text></g>
<g id="g3-11" class="n gy" transform="translate(736.7,983)"><circle r="10.5"/><text y="3">5,6</text></g>
<g id="g3-12" class="n gy" transform="translate(801.8,983)"><circle r="10.5"/><text y="3">6,7</text></g>
<g id="g3-13" class="n gy" transform="translate(867,983)"><circle r="10.5"/><text y="3">7</text></g>
<g id="g4-5" class="n gy" transform="translate(345.8,1021.5)"><circle r="10.5"/><text y="3">0</text></g>
<g id="g4-6" class="n gy" transform="translate(410.9,1021.5)"><circle r="10.5"/><text y="3">0,1</text></g>
<g id="g4-7" class="n gy" transform="translate(476.1,1021.5)"><circle r="10.5"/><text y="3">1,2</text></g>
<g id="g4-8" class="n gy" transform="translate(541.2,1021.5)"><circle r="10.5"/><text y="3">2,3</text></g>
<g id="g4-9" class="n gy" transform="translate(606.4,1021.5)"><circle r="10.5"/><text y="3">3,4</text></g>
<g id="g4-10" class="n gy" transform="translate(671.5,1021.5)"><circle r="10.5"/><text y="3">4,5</text></g>
<g id="g4-11" class="n gy" transform="translate(736.7,1021.5)"><circle r="10.5"/><text y="3">5,6</text></g>
<g id="g4-12" class="n gy" transform="translate(801.8,1021.5)"><circle r="10.5"/><text y="3">6,7</text></g>
<g id="g4-13" class="n gy" transform="translate(867,1021.5)"><circle r="10.5"/><text y="3">7</text></g>
<g id="h1-e0" class="n em" transform="translate(313.2,1061.5)"><circle r="10.5"/><text y="3">∅</text></g>
<g id="h1-0" class="n lf" transform="translate(378.3,1061.5)"><circle r="10.5"/><text y="3">0</text></g>
<g id="h1-1" class="n lf" transform="translate(443.5,1061.5)"><circle r="10.5"/><text y="3">1</text></g>
<g id="h1-2" class="n lf" transform="translate(508.6,1061.5)"><circle r="10.5"/><text y="3">2</text></g>
<g id="h1-3" class="n lf" transform="translate(573.8,1061.5)"><circle r="10.5"/><text y="3">3</text></g>
<g id="h1-4" class="n lf" transform="translate(638.9,1061.5)"><circle r="10.5"/><text y="3">4</text></g>
<g id="h1-5" class="n lf" transform="translate(704.1,1061.5)"><circle r="10.5"/><text y="3">5</text></g>
<g id="h1-6" class="n lf" transform="translate(769.2,1061.5)"><circle r="10.5"/><text y="3">6</text></g>
<g id="h1-7" class="n lf" transform="translate(834.4,1061.5)"><circle r="10.5"/><text y="3">7</text></g>
<g id="h1-e1" class="n em" transform="translate(899.5,1061.5)"><circle r="10.5"/><text y="3">∅</text></g>
<g id="h2-e0" class="n em" transform="translate(313.2,1100)"><circle r="10.5"/><text y="3">∅</text></g>
<g id="h2-0" class="n lf" transform="translate(378.3,1100)"><circle r="10.5"/><text y="3">0</text></g>
<g id="h2-1" class="n lf" transform="translate(443.5,1100)"><circle r="10.5"/><text y="3">1</text></g>
<g id="h2-2" class="n lf" transform="translate(508.6,1100)"><circle r="10.5"/><text y="3">2</text></g>
<g id="h2-3" class="n lf" transform="translate(573.8,1100)"><circle r="10.5"/><text y="3">3</text></g>
<g id="h2-4" class="n lf" transform="translate(638.9,1100)"><circle r="10.5"/><text y="3">4</text></g>
<g id="h2-5" class="n lf" transform="translate(704.1,1100)"><circle r="10.5"/><text y="3">5</text></g>
<g id="h2-6" class="n lf" transform="translate(769.2,1100)"><circle r="10.5"/><text y="3">6</text></g>
<g id="h2-7" class="n lf" transform="translate(834.4,1100)"><circle r="10.5"/><text y="3">7</text></g>
<g id="h2-e1" class="n em" transform="translate(899.5,1100)"><circle r="10.5"/><text y="3">∅</text></g>
</svg>
